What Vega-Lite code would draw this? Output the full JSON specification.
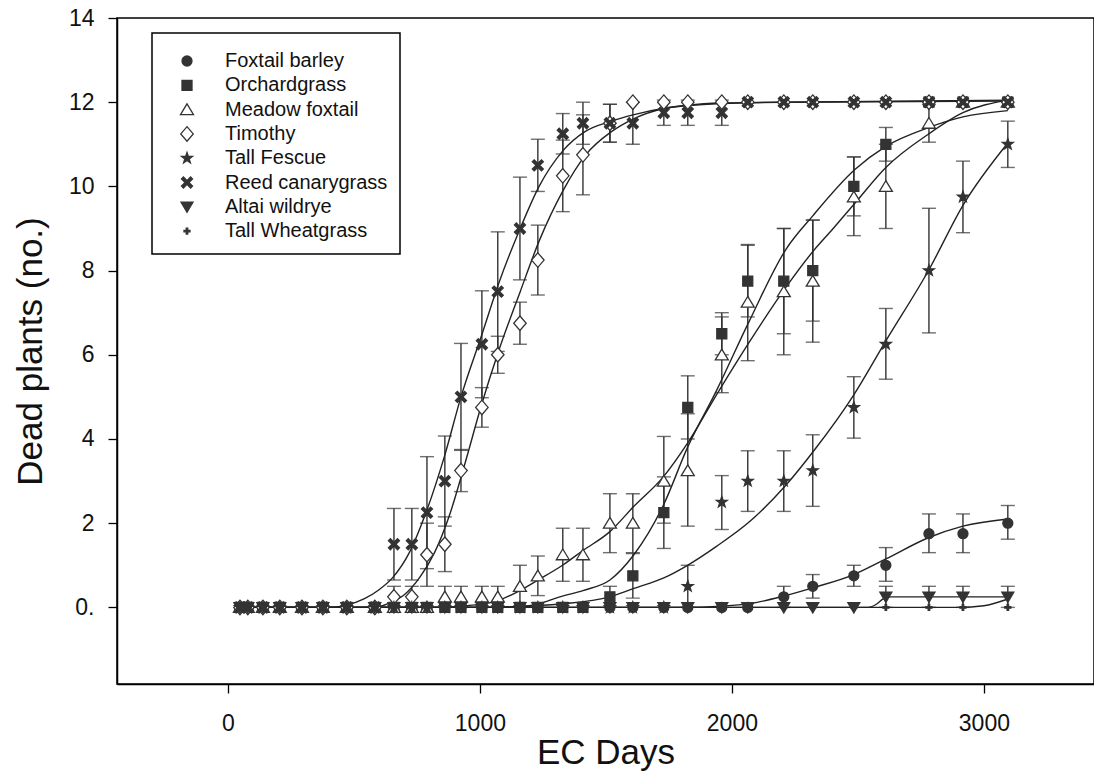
{
  "$schema": "https://vega.github.io/schema/vega-lite/v6.json",
  "width": 977,
  "height": 666,
  "autosize": {"type": "none"},
  "padding": {"left": 117, "top": 18, "right": 0, "bottom": 89},
  "background": "white",
  "config": {
    "font": "Liberation Sans",
    "view": {"stroke": "black", "strokeWidth": 1.5},
    "axis": {
      "grid": false,
      "domainColor": "black",
      "domainWidth": 1.5,
      "tickColor": "black",
      "tickWidth": 1.3,
      "tickSize": 9,
      "labelColor": "#111",
      "titleColor": "#111",
      "labelFont": "Liberation Sans",
      "titleFont": "Liberation Sans",
      "titleFontWeight": "normal",
      "labelFlush": false
    },
    "legend": {"strokeWidth": 1.5}
  },
  "datasets": {
    "pts": [
      {"s":"Foxtail barley","x":48,"y":0},{"s":"Foxtail barley","x":79,"y":0},{"s":"Foxtail barley","x":139,"y":0},{"s":"Foxtail barley","x":206,"y":0},{"s":"Foxtail barley","x":294,"y":0},{"s":"Foxtail barley","x":377,"y":0},{"s":"Foxtail barley","x":472,"y":0},{"s":"Foxtail barley","x":583,"y":0},{"s":"Foxtail barley","x":659,"y":0},{"s":"Foxtail barley","x":730,"y":0},{"s":"Foxtail barley","x":790,"y":0},{"s":"Foxtail barley","x":861,"y":0},{"s":"Foxtail barley","x":925,"y":0},{"s":"Foxtail barley","x":1008,"y":0},{"s":"Foxtail barley","x":1071,"y":0},{"s":"Foxtail barley","x":1159,"y":0},{"s":"Foxtail barley","x":1230,"y":0},{"s":"Foxtail barley","x":1329,"y":0},{"s":"Foxtail barley","x":1409,"y":0},{"s":"Foxtail barley","x":1516,"y":0},{"s":"Foxtail barley","x":1607,"y":0},{"s":"Foxtail barley","x":1730,"y":0},{"s":"Foxtail barley","x":1825,"y":0},{"s":"Foxtail barley","x":1960,"y":0},{"s":"Foxtail barley","x":2063,"y":0},
      {"s":"Foxtail barley","x":2206,"y":0.25,"lo":0,"hi":0.5},{"s":"Foxtail barley","x":2321,"y":0.5,"lo":0.22,"hi":0.78},{"s":"Foxtail barley","x":2484,"y":0.75,"lo":0.5,"hi":1.0},{"s":"Foxtail barley","x":2611,"y":1.0,"lo":0.62,"hi":1.42},{"s":"Foxtail barley","x":2782,"y":1.75,"lo":1.3,"hi":2.22},{"s":"Foxtail barley","x":2917,"y":1.75,"lo":1.3,"hi":2.22},{"s":"Foxtail barley","x":3095,"y":2.0,"lo":1.62,"hi":2.42},

      {"s":"Orchardgrass","x":48,"y":0},{"s":"Orchardgrass","x":79,"y":0},{"s":"Orchardgrass","x":139,"y":0},{"s":"Orchardgrass","x":206,"y":0},{"s":"Orchardgrass","x":294,"y":0},{"s":"Orchardgrass","x":377,"y":0},{"s":"Orchardgrass","x":472,"y":0},{"s":"Orchardgrass","x":583,"y":0},{"s":"Orchardgrass","x":659,"y":0},{"s":"Orchardgrass","x":730,"y":0},{"s":"Orchardgrass","x":790,"y":0},{"s":"Orchardgrass","x":861,"y":0},{"s":"Orchardgrass","x":925,"y":0},{"s":"Orchardgrass","x":1008,"y":0},{"s":"Orchardgrass","x":1071,"y":0},{"s":"Orchardgrass","x":1159,"y":0},{"s":"Orchardgrass","x":1230,"y":0},{"s":"Orchardgrass","x":1329,"y":0},{"s":"Orchardgrass","x":1409,"y":0},
      {"s":"Orchardgrass","x":1516,"y":0.25,"lo":0,"hi":0.5},{"s":"Orchardgrass","x":1607,"y":0.75,"lo":0.22,"hi":1.28},{"s":"Orchardgrass","x":1730,"y":2.25,"lo":1.4,"hi":3.1},{"s":"Orchardgrass","x":1825,"y":4.75,"lo":4.0,"hi":5.5},{"s":"Orchardgrass","x":1960,"y":6.5,"lo":6.0,"hi":7.0},{"s":"Orchardgrass","x":2063,"y":7.75,"lo":6.9,"hi":8.6},{"s":"Orchardgrass","x":2206,"y":7.75,"lo":6.5,"hi":9.0},{"s":"Orchardgrass","x":2321,"y":8.0,"lo":6.8,"hi":9.2},{"s":"Orchardgrass","x":2484,"y":10.0,"lo":9.3,"hi":10.7},{"s":"Orchardgrass","x":2611,"y":11.0,"lo":10.6,"hi":11.4},{"s":"Orchardgrass","x":2782,"y":12},{"s":"Orchardgrass","x":2917,"y":12},{"s":"Orchardgrass","x":3095,"y":12},

      {"s":"Meadow foxtail","x":48,"y":0},{"s":"Meadow foxtail","x":79,"y":0},{"s":"Meadow foxtail","x":139,"y":0},{"s":"Meadow foxtail","x":206,"y":0},{"s":"Meadow foxtail","x":294,"y":0},{"s":"Meadow foxtail","x":377,"y":0},{"s":"Meadow foxtail","x":472,"y":0},{"s":"Meadow foxtail","x":583,"y":0},{"s":"Meadow foxtail","x":659,"y":0},{"s":"Meadow foxtail","x":730,"y":0},{"s":"Meadow foxtail","x":790,"y":0},
      {"s":"Meadow foxtail","x":861,"y":0.25,"lo":0,"hi":0.5},{"s":"Meadow foxtail","x":925,"y":0.25,"lo":0,"hi":0.5},{"s":"Meadow foxtail","x":1008,"y":0.25,"lo":0,"hi":0.5},{"s":"Meadow foxtail","x":1071,"y":0.25,"lo":0,"hi":0.5},{"s":"Meadow foxtail","x":1159,"y":0.5,"lo":0,"hi":1.0},{"s":"Meadow foxtail","x":1230,"y":0.75,"lo":0.28,"hi":1.22},{"s":"Meadow foxtail","x":1329,"y":1.25,"lo":0.62,"hi":1.88},{"s":"Meadow foxtail","x":1409,"y":1.25,"lo":0.62,"hi":1.88},{"s":"Meadow foxtail","x":1516,"y":2.0,"lo":1.3,"hi":2.7},{"s":"Meadow foxtail","x":1607,"y":2.0,"lo":1.3,"hi":2.7},{"s":"Meadow foxtail","x":1730,"y":3.0,"lo":2.0,"hi":4.06},{"s":"Meadow foxtail","x":1825,"y":3.25,"lo":1.93,"hi":4.6},{"s":"Meadow foxtail","x":1960,"y":6.0,"lo":5.1,"hi":6.9},{"s":"Meadow foxtail","x":2063,"y":7.25,"lo":5.86,"hi":8.62},{"s":"Meadow foxtail","x":2206,"y":7.5,"lo":6.0,"hi":9.0},{"s":"Meadow foxtail","x":2321,"y":7.75,"lo":6.3,"hi":9.2},{"s":"Meadow foxtail","x":2484,"y":9.75,"lo":8.83,"hi":10.7},{"s":"Meadow foxtail","x":2611,"y":10.0,"lo":9.0,"hi":11.0},{"s":"Meadow foxtail","x":2782,"y":11.5,"lo":11.05,"hi":11.95},{"s":"Meadow foxtail","x":2917,"y":12},{"s":"Meadow foxtail","x":3095,"y":12},

      {"s":"Timothy","x":48,"y":0},{"s":"Timothy","x":79,"y":0},{"s":"Timothy","x":139,"y":0},{"s":"Timothy","x":206,"y":0},{"s":"Timothy","x":294,"y":0},{"s":"Timothy","x":377,"y":0},{"s":"Timothy","x":472,"y":0},{"s":"Timothy","x":583,"y":0},
      {"s":"Timothy","x":659,"y":0.25,"lo":0,"hi":0.5},{"s":"Timothy","x":730,"y":0.25,"lo":0,"hi":0.5},{"s":"Timothy","x":790,"y":1.25,"lo":0.5,"hi":2.0},{"s":"Timothy","x":861,"y":1.5,"lo":0.85,"hi":2.15},{"s":"Timothy","x":925,"y":3.25,"lo":2.75,"hi":3.75},{"s":"Timothy","x":1008,"y":4.75,"lo":4.28,"hi":5.22},{"s":"Timothy","x":1071,"y":6.0,"lo":5.56,"hi":6.44},{"s":"Timothy","x":1159,"y":6.75,"lo":6.25,"hi":7.25},{"s":"Timothy","x":1230,"y":8.25,"lo":7.42,"hi":9.08},{"s":"Timothy","x":1329,"y":10.25,"lo":9.4,"hi":11.1},{"s":"Timothy","x":1409,"y":10.75,"lo":9.8,"hi":11.7},{"s":"Timothy","x":1516,"y":11.5,"lo":11.05,"hi":11.95},
      {"s":"Timothy","x":1607,"y":12},{"s":"Timothy","x":1730,"y":12},{"s":"Timothy","x":1825,"y":12},{"s":"Timothy","x":1960,"y":12},{"s":"Timothy","x":2063,"y":12},{"s":"Timothy","x":2206,"y":12},{"s":"Timothy","x":2321,"y":12},{"s":"Timothy","x":2484,"y":12},{"s":"Timothy","x":2611,"y":12},{"s":"Timothy","x":2782,"y":12},{"s":"Timothy","x":2917,"y":12},{"s":"Timothy","x":3095,"y":12},

      {"s":"Tall Fescue","x":48,"y":0},{"s":"Tall Fescue","x":79,"y":0},{"s":"Tall Fescue","x":139,"y":0},{"s":"Tall Fescue","x":206,"y":0},{"s":"Tall Fescue","x":294,"y":0},{"s":"Tall Fescue","x":377,"y":0},{"s":"Tall Fescue","x":472,"y":0},{"s":"Tall Fescue","x":583,"y":0},{"s":"Tall Fescue","x":659,"y":0},{"s":"Tall Fescue","x":730,"y":0},{"s":"Tall Fescue","x":790,"y":0},{"s":"Tall Fescue","x":861,"y":0},{"s":"Tall Fescue","x":925,"y":0},{"s":"Tall Fescue","x":1008,"y":0},{"s":"Tall Fescue","x":1071,"y":0},{"s":"Tall Fescue","x":1159,"y":0},{"s":"Tall Fescue","x":1230,"y":0},{"s":"Tall Fescue","x":1329,"y":0},{"s":"Tall Fescue","x":1409,"y":0},{"s":"Tall Fescue","x":1516,"y":0},{"s":"Tall Fescue","x":1607,"y":0},{"s":"Tall Fescue","x":1730,"y":0},
      {"s":"Tall Fescue","x":1825,"y":0.5,"lo":0,"hi":1.0},{"s":"Tall Fescue","x":1960,"y":2.5,"lo":1.85,"hi":3.13},{"s":"Tall Fescue","x":2063,"y":3.0,"lo":2.28,"hi":3.72},{"s":"Tall Fescue","x":2206,"y":3.0,"lo":2.28,"hi":3.72},{"s":"Tall Fescue","x":2321,"y":3.25,"lo":2.4,"hi":4.1},{"s":"Tall Fescue","x":2484,"y":4.75,"lo":4.02,"hi":5.48},{"s":"Tall Fescue","x":2611,"y":6.25,"lo":5.42,"hi":7.1},{"s":"Tall Fescue","x":2782,"y":8.0,"lo":6.52,"hi":9.48},{"s":"Tall Fescue","x":2917,"y":9.75,"lo":8.9,"hi":10.6},{"s":"Tall Fescue","x":3095,"y":11.0,"lo":10.45,"hi":11.55},

      {"s":"Reed canarygrass","x":48,"y":0},{"s":"Reed canarygrass","x":79,"y":0},{"s":"Reed canarygrass","x":139,"y":0},{"s":"Reed canarygrass","x":206,"y":0},{"s":"Reed canarygrass","x":294,"y":0},{"s":"Reed canarygrass","x":377,"y":0},{"s":"Reed canarygrass","x":472,"y":0},{"s":"Reed canarygrass","x":583,"y":0},
      {"s":"Reed canarygrass","x":659,"y":1.5,"lo":0.65,"hi":2.35},{"s":"Reed canarygrass","x":730,"y":1.5,"lo":0.65,"hi":2.35},{"s":"Reed canarygrass","x":790,"y":2.25,"lo":0.92,"hi":3.58},{"s":"Reed canarygrass","x":861,"y":3.0,"lo":1.93,"hi":4.07},{"s":"Reed canarygrass","x":925,"y":5.0,"lo":3.73,"hi":6.27},{"s":"Reed canarygrass","x":1008,"y":6.25,"lo":4.98,"hi":7.52},{"s":"Reed canarygrass","x":1071,"y":7.5,"lo":6.08,"hi":8.92},{"s":"Reed canarygrass","x":1159,"y":9.0,"lo":7.78,"hi":10.22},{"s":"Reed canarygrass","x":1230,"y":10.5,"lo":9.88,"hi":11.12},{"s":"Reed canarygrass","x":1329,"y":11.25,"lo":10.77,"hi":11.73},{"s":"Reed canarygrass","x":1409,"y":11.5,"lo":11.0,"hi":12.0},{"s":"Reed canarygrass","x":1516,"y":11.5,"lo":11.05,"hi":11.95},{"s":"Reed canarygrass","x":1607,"y":11.5,"lo":11.0,"hi":12.0},{"s":"Reed canarygrass","x":1730,"y":11.75,"lo":11.45,"hi":12.05},{"s":"Reed canarygrass","x":1825,"y":11.75,"lo":11.45,"hi":12.05},{"s":"Reed canarygrass","x":1960,"y":11.75,"lo":11.45,"hi":12.05},
      {"s":"Reed canarygrass","x":2063,"y":12},{"s":"Reed canarygrass","x":2206,"y":12},{"s":"Reed canarygrass","x":2321,"y":12},{"s":"Reed canarygrass","x":2484,"y":12},{"s":"Reed canarygrass","x":2611,"y":12},{"s":"Reed canarygrass","x":2782,"y":12},{"s":"Reed canarygrass","x":2917,"y":12},{"s":"Reed canarygrass","x":3095,"y":12},

      {"s":"Altai wildrye","x":48,"y":0},{"s":"Altai wildrye","x":79,"y":0},{"s":"Altai wildrye","x":139,"y":0},{"s":"Altai wildrye","x":206,"y":0},{"s":"Altai wildrye","x":294,"y":0},{"s":"Altai wildrye","x":377,"y":0},{"s":"Altai wildrye","x":472,"y":0},{"s":"Altai wildrye","x":583,"y":0},{"s":"Altai wildrye","x":659,"y":0},{"s":"Altai wildrye","x":730,"y":0},{"s":"Altai wildrye","x":790,"y":0},{"s":"Altai wildrye","x":861,"y":0},{"s":"Altai wildrye","x":925,"y":0},{"s":"Altai wildrye","x":1008,"y":0},{"s":"Altai wildrye","x":1071,"y":0},{"s":"Altai wildrye","x":1159,"y":0},{"s":"Altai wildrye","x":1230,"y":0},{"s":"Altai wildrye","x":1329,"y":0},{"s":"Altai wildrye","x":1409,"y":0},{"s":"Altai wildrye","x":1516,"y":0},{"s":"Altai wildrye","x":1607,"y":0},{"s":"Altai wildrye","x":1730,"y":0},{"s":"Altai wildrye","x":1825,"y":0},{"s":"Altai wildrye","x":1960,"y":0},{"s":"Altai wildrye","x":2063,"y":0},{"s":"Altai wildrye","x":2206,"y":0},{"s":"Altai wildrye","x":2321,"y":0},{"s":"Altai wildrye","x":2484,"y":0},
      {"s":"Altai wildrye","x":2611,"y":0.25,"lo":0,"hi":0.5},{"s":"Altai wildrye","x":2782,"y":0.25,"lo":0,"hi":0.5},{"s":"Altai wildrye","x":2917,"y":0.25,"lo":0,"hi":0.5},{"s":"Altai wildrye","x":3095,"y":0.25,"lo":0,"hi":0.5},

      {"s":"Tall Wheatgrass","x":48,"y":0},{"s":"Tall Wheatgrass","x":79,"y":0},{"s":"Tall Wheatgrass","x":139,"y":0},{"s":"Tall Wheatgrass","x":206,"y":0},{"s":"Tall Wheatgrass","x":294,"y":0},{"s":"Tall Wheatgrass","x":377,"y":0},{"s":"Tall Wheatgrass","x":472,"y":0},{"s":"Tall Wheatgrass","x":583,"y":0},{"s":"Tall Wheatgrass","x":659,"y":0},{"s":"Tall Wheatgrass","x":730,"y":0},{"s":"Tall Wheatgrass","x":790,"y":0},{"s":"Tall Wheatgrass","x":861,"y":0},{"s":"Tall Wheatgrass","x":925,"y":0},{"s":"Tall Wheatgrass","x":1008,"y":0},{"s":"Tall Wheatgrass","x":1071,"y":0},{"s":"Tall Wheatgrass","x":1159,"y":0},{"s":"Tall Wheatgrass","x":1230,"y":0},{"s":"Tall Wheatgrass","x":1329,"y":0},{"s":"Tall Wheatgrass","x":1409,"y":0},{"s":"Tall Wheatgrass","x":1516,"y":0},{"s":"Tall Wheatgrass","x":1607,"y":0},{"s":"Tall Wheatgrass","x":1730,"y":0},{"s":"Tall Wheatgrass","x":1825,"y":0},{"s":"Tall Wheatgrass","x":1960,"y":0},{"s":"Tall Wheatgrass","x":2063,"y":0},{"s":"Tall Wheatgrass","x":2206,"y":0},{"s":"Tall Wheatgrass","x":2321,"y":0},{"s":"Tall Wheatgrass","x":2484,"y":0},{"s":"Tall Wheatgrass","x":2611,"y":0},{"s":"Tall Wheatgrass","x":2782,"y":0},{"s":"Tall Wheatgrass","x":2917,"y":0},{"s":"Tall Wheatgrass","x":3095,"y":0}
    ],
    "curves": [
      {"s":"Reed canarygrass","x":48,"y":0},{"s":"Reed canarygrass","x":418,"y":0},{"s":"Reed canarygrass","x":470,"y":0.05},{"s":"Reed canarygrass","x":540,"y":0.2},{"s":"Reed canarygrass","x":600,"y":0.42},{"s":"Reed canarygrass","x":653,"y":0.7},{"s":"Reed canarygrass","x":720,"y":1.3},{"s":"Reed canarygrass","x":789,"y":2.3},{"s":"Reed canarygrass","x":860,"y":3.6},{"s":"Reed canarygrass","x":925,"y":5.0},{"s":"Reed canarygrass","x":1009,"y":6.5},{"s":"Reed canarygrass","x":1075,"y":7.7},{"s":"Reed canarygrass","x":1160,"y":9.0},{"s":"Reed canarygrass","x":1235,"y":10.0},{"s":"Reed canarygrass","x":1330,"y":10.85},{"s":"Reed canarygrass","x":1417,"y":11.3},{"s":"Reed canarygrass","x":1522,"y":11.55},{"s":"Reed canarygrass","x":1608,"y":11.7},{"s":"Reed canarygrass","x":1727,"y":11.85},{"s":"Reed canarygrass","x":1826,"y":11.92},{"s":"Reed canarygrass","x":1959,"y":11.97},{"s":"Reed canarygrass","x":2200,"y":12.0},{"s":"Reed canarygrass","x":3100,"y":12.03},
      {"s":"Timothy","x":48,"y":0},{"s":"Timothy","x":583,"y":0},{"s":"Timothy","x":640,"y":0.1},{"s":"Timothy","x":700,"y":0.3},{"s":"Timothy","x":760,"y":0.7},{"s":"Timothy","x":820,"y":1.3},{"s":"Timothy","x":880,"y":2.2},{"s":"Timothy","x":940,"y":3.4},{"s":"Timothy","x":1006,"y":4.8},{"s":"Timothy","x":1075,"y":6.1},{"s":"Timothy","x":1160,"y":7.5},{"s":"Timothy","x":1235,"y":8.7},{"s":"Timothy","x":1330,"y":9.9},{"s":"Timothy","x":1420,"y":10.75},{"s":"Timothy","x":1522,"y":11.3},{"s":"Timothy","x":1608,"y":11.6},{"s":"Timothy","x":1730,"y":11.85},{"s":"Timothy","x":1826,"y":11.93},{"s":"Timothy","x":1960,"y":11.98},{"s":"Timothy","x":2200,"y":12.0},{"s":"Timothy","x":3100,"y":12.05},
      {"s":"Meadow foxtail","x":48,"y":0},{"s":"Meadow foxtail","x":850,"y":0},{"s":"Meadow foxtail","x":950,"y":0.04},{"s":"Meadow foxtail","x":1066,"y":0.15},{"s":"Meadow foxtail","x":1159,"y":0.4},{"s":"Meadow foxtail","x":1231,"y":0.65},{"s":"Meadow foxtail","x":1328,"y":1.0},{"s":"Meadow foxtail","x":1409,"y":1.35},{"s":"Meadow foxtail","x":1516,"y":1.8},{"s":"Meadow foxtail","x":1611,"y":2.4},{"s":"Meadow foxtail","x":1728,"y":3.1},{"s":"Meadow foxtail","x":1824,"y":3.9},{"s":"Meadow foxtail","x":1939,"y":5.05},{"s":"Meadow foxtail","x":2069,"y":6.3},{"s":"Meadow foxtail","x":2214,"y":7.6},{"s":"Meadow foxtail","x":2321,"y":8.45},{"s":"Meadow foxtail","x":2402,"y":9.0},{"s":"Meadow foxtail","x":2488,"y":9.6},{"s":"Meadow foxtail","x":2611,"y":10.45},{"s":"Meadow foxtail","x":2782,"y":11.25},{"s":"Meadow foxtail","x":2917,"y":11.75},{"s":"Meadow foxtail","x":3095,"y":12.05},
      {"s":"Orchardgrass","x":48,"y":0},{"s":"Orchardgrass","x":1130,"y":0},{"s":"Orchardgrass","x":1230,"y":0.08},{"s":"Orchardgrass","x":1317,"y":0.25},{"s":"Orchardgrass","x":1409,"y":0.4},{"s":"Orchardgrass","x":1516,"y":0.65},{"s":"Orchardgrass","x":1611,"y":1.25},{"s":"Orchardgrass","x":1730,"y":2.45},{"s":"Orchardgrass","x":1824,"y":3.8},{"s":"Orchardgrass","x":1939,"y":5.15},{"s":"Orchardgrass","x":2069,"y":6.8},{"s":"Orchardgrass","x":2214,"y":8.5},{"s":"Orchardgrass","x":2321,"y":9.3},{"s":"Orchardgrass","x":2488,"y":10.4},{"s":"Orchardgrass","x":2611,"y":10.95},{"s":"Orchardgrass","x":2782,"y":11.4},{"s":"Orchardgrass","x":2917,"y":11.65},{"s":"Orchardgrass","x":3095,"y":11.8},
      {"s":"Tall Fescue","x":48,"y":0},{"s":"Tall Fescue","x":1000,"y":0},{"s":"Tall Fescue","x":1150,"y":0.02},{"s":"Tall Fescue","x":1317,"y":0.08},{"s":"Tall Fescue","x":1516,"y":0.25},{"s":"Tall Fescue","x":1611,"y":0.45},{"s":"Tall Fescue","x":1730,"y":0.7},{"s":"Tall Fescue","x":1824,"y":1.0},{"s":"Tall Fescue","x":1939,"y":1.45},{"s":"Tall Fescue","x":2073,"y":2.05},{"s":"Tall Fescue","x":2214,"y":2.9},{"s":"Tall Fescue","x":2329,"y":3.75},{"s":"Tall Fescue","x":2484,"y":5.05},{"s":"Tall Fescue","x":2611,"y":6.33},{"s":"Tall Fescue","x":2782,"y":8.02},{"s":"Tall Fescue","x":2917,"y":9.55},{"s":"Tall Fescue","x":3095,"y":11.03},
      {"s":"Foxtail barley","x":48,"y":0},{"s":"Foxtail barley","x":1800,"y":0},{"s":"Foxtail barley","x":1960,"y":0.03},{"s":"Foxtail barley","x":2100,"y":0.12},{"s":"Foxtail barley","x":2206,"y":0.27},{"s":"Foxtail barley","x":2324,"y":0.47},{"s":"Foxtail barley","x":2484,"y":0.78},{"s":"Foxtail barley","x":2611,"y":1.15},{"s":"Foxtail barley","x":2782,"y":1.66},{"s":"Foxtail barley","x":2917,"y":1.93},{"s":"Foxtail barley","x":3095,"y":2.1},
      {"s":"Altai wildrye","x":48,"y":0},{"s":"Altai wildrye","x":2540,"y":0},{"s":"Altai wildrye","x":2575,"y":0.08},{"s":"Altai wildrye","x":2600,"y":0.2},{"s":"Altai wildrye","x":2630,"y":0.25},{"s":"Altai wildrye","x":3095,"y":0.25},
      {"s":"Tall Wheatgrass","x":48,"y":0},{"s":"Tall Wheatgrass","x":2900,"y":0},{"s":"Tall Wheatgrass","x":3000,"y":0.04},{"s":"Tall Wheatgrass","x":3095,"y":0.2}
    ]
  },
  "layer": [
    {
      "data": {"name": "pts"},
      "transform": [{"filter": "isValid(datum.lo)"}],
      "mark": {"type": "errorbar", "ticks": {"size": 14, "thickness": 1.4}, "color": "#333", "thickness": 1.4},
      "encoding": {
        "x": {"field": "x", "type": "quantitative", "scale": {"domain": [-440, 3437], "nice": false, "zero": false},
              "axis": {"values": [0, 1000, 2000, 3000], "format": "d", "title": "EC Days", "labelFontSize": 23, "titleFontSize": 35, "labelPadding": 19, "titlePadding": 0}},
        "y": {"field": "lo", "type": "quantitative", "scale": {"domain": [-1.82, 14], "nice": false, "zero": false},
              "axis": {"values": [0, 2, 4, 6, 8, 10, 12, 14], "title": "Dead plants (no.)", "labelFontSize": 23, "titleFontSize": 35, "labelPadding": 14, "titlePadding": 20, "labelExpr": "datum.value == 0 ? '0.' : datum.label"}},
        "y2": {"field": "hi"}
      }
    },
    {
      "data": {"name": "curves"},
      "mark": {"type": "line", "interpolate": "monotone", "color": "#222", "strokeWidth": 1.4},
      "encoding": {
        "x": {"field": "x", "type": "quantitative"},
        "y": {"field": "y", "type": "quantitative"},
        "detail": {"field": "s", "type": "nominal"}
      }
    },
    {
      "data": {"name": "pts"},
      "mark": {"type": "point", "filled": true, "size": 100, "strokeWidth": 1.3, "opacity": 1},
      "encoding": {
        "x": {"field": "x", "type": "quantitative"},
        "y": {"field": "y", "type": "quantitative"},
        "shape": {
          "field": "s", "type": "nominal",
          "scale": {
            "domain": ["Foxtail barley", "Orchardgrass", "Meadow foxtail", "Timothy", "Tall Fescue", "Reed canarygrass", "Altai wildrye", "Tall Wheatgrass"],
            "range": ["circle", "square", "M0,-1.15L1.3,1L-1.3,1Z", "M0,-1.45L1.25,0L0,1.45L-1.25,0Z", "M0,-1.15L0.27,-0.37L1.09,-0.36L0.44,0.14L0.68,0.93L0,0.46L-0.68,0.93L-0.44,0.14L-1.09,-0.36L-0.27,-0.37Z", "M-1.1,-0.72L-0.72,-1.1L0,-0.38L0.72,-1.1L1.1,-0.72L0.38,0L1.1,0.72L0.72,1.1L0,0.38L-0.72,1.1L-1.1,0.72L-0.38,0Z", "M-1.2,-0.95L1.2,-0.95L0,1.1Z", "M-0.6,-0.15L-0.15,-0.15L-0.15,-0.6L0.15,-0.6L0.15,-0.15L0.6,-0.15L0.6,0.15L0.15,0.15L0.15,0.6L-0.15,0.6L-0.15,0.15L-0.6,0.15Z"]
          },
          "legend": {
            "orient": "none", "legendX": 35, "legendY": 15, "title": " ", "titleFontSize": 6, "titlePadding": 0,
            "labelFontSize": 20, "labelFont": "Liberation Sans", "labelColor": "#111", "labelLimit": 400,
            "symbolSize": 100, "symbolStrokeWidth": 1.3,
            "strokeColor": "black", "fillColor": "white", "padding": 12,
            "rowPadding": 4.3, "symbolOffset": 13, "labelOffset": 28
          }
        },
        "fill": {
          "field": "s", "type": "nominal",
          "scale": {
            "domain": ["Foxtail barley", "Orchardgrass", "Meadow foxtail", "Timothy", "Tall Fescue", "Reed canarygrass", "Altai wildrye", "Tall Wheatgrass"],
            "range": ["#333", "#333", "white", "white", "#333", "#333", "#333", "#333"]
          }
        },
        "stroke": {
          "field": "s", "type": "nominal",
          "scale": {
            "domain": ["Foxtail barley", "Orchardgrass", "Meadow foxtail", "Timothy", "Tall Fescue", "Reed canarygrass", "Altai wildrye", "Tall Wheatgrass"],
            "range": ["#333", "#333", "#333", "#333", "#333", "#333", "#333", "#333"]
          }
        }
      }
    }
  ]
}
